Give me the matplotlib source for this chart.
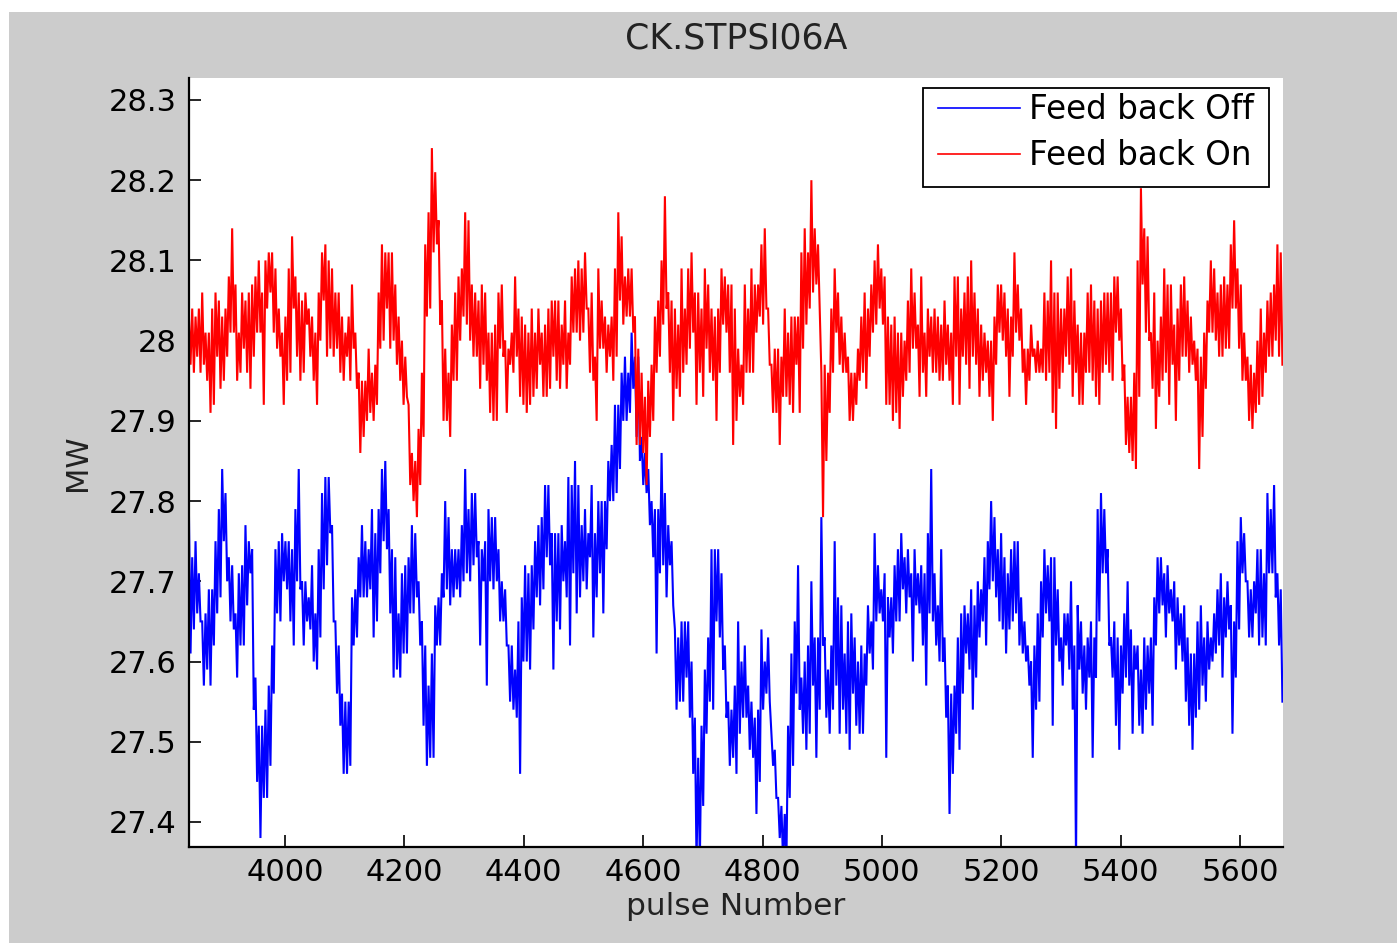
import numpy as np
import matplotlib
matplotlib.use("Agg")
import matplotlib.pyplot as plt
from matplotlib.patches import Rectangle
from matplotlib.lines import Line2D
from matplotlib.ticker import FixedLocator, FuncFormatter

# ---------------- data ----------------
title = "CK.STPSI06A"
x_label = "pulse Number"
y_label = "MW"
series_names = ["Feed back Off", "Feed back On"]
pulse_first, pulse_last = 3839, 5671
x_ticks = [4000, 4200, 4400, 4600, 4800, 5000, 5200, 5400, 5600]
y_ticks = [27.4, 27.5, 27.6, 27.7, 27.8, 27.9, 28.0, 28.1, 28.2, 28.3]

# local upper / lower envelope of each series
red_hi = [
    28.03, 28.04, 28.03, 28.04, 28.06, 28.01, 28.01, 28.04, 28.06, 28.05,
    28.03, 28.04, 28.08, 28.14, 28.07, 28.01, 28.06, 28.05, 28.06, 28.07,
    28.08, 28.10, 28.06, 28.10, 28.11, 28.11, 28.09, 28.04, 28.01, 28.03,
    28.09, 28.13, 28.08, 28.06, 28.05, 28.06, 28.04, 28.03, 28.01, 28.06,
    28.11, 28.12, 28.10, 28.09, 28.06, 28.06, 28.03, 28.01, 28.03, 28.07,
    28.01, 27.96, 27.95, 27.95, 27.99, 27.96,
    27.97, 28.06, 28.12, 28.11, 28.11, 28.11, 28.07, 28.03, 28.00, 27.98,
    27.92, 27.86, 27.85, 27.89, 27.96, 28.12, 28.16, 28.24, 28.21, 28.15,
    28.05, 27.99, 27.96, 28.02, 28.06, 28.08, 28.09, 28.16, 28.15, 28.07,
    28.06, 28.05, 28.07, 28.06, 28.01, 28.01, 28.02, 28.06, 28.07, 28.00,
    27.99, 28.01, 28.08, 28.04, 28.03, 28.02, 28.01, 28.04, 28.01, 28.04,
    28.01, 28.02, 28.04, 28.05, 28.05, 28.05,
    28.02, 28.05, 28.01, 28.08, 28.09, 28.10, 28.09, 28.11, 28.04, 28.06,
    27.98, 28.09, 28.05, 28.03, 28.02, 28.03, 28.09, 28.16, 28.13, 28.08,
    28.09, 28.09, 28.03, 27.99, 27.96, 27.93, 27.95, 27.97, 28.03, 28.05,
    28.10, 28.18, 28.06, 28.05, 28.04, 28.02, 28.09, 28.04, 28.09, 28.11,
    28.06, 28.06, 28.04, 28.09, 28.07, 28.04, 28.03, 28.04, 28.09, 28.08,
    28.07, 28.07, 28.04, 27.99, 27.97,
    28.07, 28.04, 28.09, 28.07, 28.07, 28.12, 28.14, 28.04, 27.97, 27.99,
    27.99, 27.98, 28.04, 28.01, 28.03, 28.03, 28.03, 28.11, 28.14, 28.11,
    28.20, 28.14, 28.12, 27.96, 27.97, 27.96, 28.04, 28.09, 28.06, 28.03,
    28.01, 27.98, 27.96, 27.96, 27.99, 28.03, 28.06, 28.04, 28.07, 28.10,
    28.12, 28.09, 28.08, 28.03, 28.02, 28.03, 28.01, 28.01, 28.00, 28.05,
    28.09, 28.06, 28.02, 28.08, 28.01,
    28.04, 28.03, 28.04, 28.03, 28.02, 28.05, 28.02, 28.01, 28.08, 28.08,
    28.04, 28.06, 28.08, 28.10, 28.06, 28.04, 28.02, 28.01, 28.00, 28.00,
    28.03, 28.07, 28.07, 28.06, 28.04, 28.03, 28.11, 28.07, 28.04, 27.99,
    27.99, 28.02, 27.99, 28.00, 27.99, 28.06, 28.05, 28.10, 28.06, 28.06,
    28.04, 28.04, 28.08, 28.09, 28.05, 28.02, 28.01, 28.01, 28.06, 28.07,
    28.05, 28.04, 28.05, 28.06, 28.06,
    28.06, 28.08, 28.08, 28.04, 27.97, 27.93, 27.93, 27.96, 28.10, 28.19,
    28.14, 28.13, 28.01, 28.06, 28.00, 28.03, 28.09, 28.07, 28.07, 28.02,
    28.04, 28.07, 28.08, 28.05, 28.03, 28.00, 27.99, 27.98, 28.01, 28.05,
    28.10, 28.09, 28.06, 28.07, 28.08, 28.07, 28.12, 28.15, 28.09, 28.07,
    28.01, 27.98, 27.97, 27.96, 28.00, 28.04, 28.01, 28.05, 28.06, 28.07,
    28.12, 28.11,
]
red_lo = [
    27.97, 27.96, 27.98, 27.96, 27.97, 27.95, 27.91, 27.92, 27.98, 27.94,
    27.95, 27.98, 28.01, 28.01, 27.95, 27.96, 27.99, 27.96, 27.94, 27.98,
    28.01, 28.01, 27.92, 28.04, 28.06, 28.01, 27.99, 27.98, 27.92, 27.95,
    27.96, 28.04, 27.98, 27.95, 27.96, 28.02, 27.98, 27.95, 27.92, 28.00,
    28.05, 27.98, 27.99, 27.98, 27.99, 27.96, 27.95, 27.98, 27.95, 27.99,
    27.94, 27.86, 27.88, 27.90, 27.91, 27.90,
    27.92, 27.99, 28.00, 28.04, 27.99, 28.00, 27.97, 27.95, 27.92, 27.93,
    27.82, 27.80, 27.78, 27.82, 27.88, 28.03, 28.04, 28.11, 28.12, 28.02,
    27.90, 27.90, 27.88, 27.95, 27.95, 28.00, 28.03, 28.02, 28.00, 27.98,
    27.98, 27.94, 27.97, 27.95, 27.91, 27.90, 27.90, 27.99, 27.98, 27.91,
    27.97, 27.96, 27.98, 27.93, 27.92, 27.91, 27.92, 27.93, 27.94, 27.97,
    27.93, 27.93, 27.94, 27.98, 27.95, 27.94,
    27.97, 27.94, 27.97, 28.01, 28.01, 28.00, 28.01, 28.04, 27.96, 27.95,
    27.90, 27.99, 27.99, 27.96, 27.98, 27.95, 27.98, 28.05, 28.02, 28.03,
    28.03, 28.01, 27.87, 27.87, 27.86, 27.82, 27.88, 27.90, 27.96, 27.98,
    28.02, 28.04, 27.96, 27.90, 27.94, 27.93, 27.96, 27.97, 27.99, 28.01,
    27.92, 27.96, 27.93, 27.99, 27.96, 27.95, 27.90, 27.96, 28.02, 28.01,
    27.96, 27.87, 27.90, 27.93, 27.92,
    27.96, 27.96, 27.96, 28.01, 28.03, 28.02, 28.04, 27.97, 27.91, 27.91,
    27.87, 27.93, 27.93, 27.92, 27.91, 27.97, 27.91, 27.99, 28.02, 28.04,
    28.06, 28.07, 28.04, 27.78, 27.85, 27.91, 27.96, 28.01, 27.97, 27.96,
    27.96, 27.90, 27.90, 27.92, 27.95, 27.96, 27.94, 27.98, 28.01, 28.02,
    28.04, 28.02, 27.92, 27.92, 27.90, 27.91, 27.89, 27.93, 27.95, 27.96,
    27.99, 27.99, 27.93, 27.96, 27.93,
    27.98, 27.96, 27.96, 27.95, 27.95, 27.97, 27.95, 27.92, 27.98, 27.92,
    27.98, 27.97, 27.94, 27.98, 27.97, 27.93, 27.95, 27.96, 27.93, 27.90,
    27.97, 28.01, 28.00, 27.98, 27.93, 27.98, 28.01, 28.00, 27.96, 27.92,
    27.95, 27.98, 27.96, 27.96, 27.96, 27.95, 27.96, 27.91, 27.89, 27.94,
    27.96, 27.98, 27.97, 27.93, 27.96, 27.92, 27.92, 27.96, 27.96, 27.95,
    27.93, 27.92, 27.96, 27.97, 27.96,
    27.95, 28.01, 28.00, 27.95, 27.87, 27.86, 27.85, 27.84, 27.93, 28.07,
    28.01, 28.00, 27.94, 27.89, 27.93, 27.95, 27.96, 27.92, 27.97, 27.90,
    27.95, 27.98, 27.98, 27.96, 27.97, 27.95, 27.84, 27.88, 27.94, 28.01,
    28.01, 28.00, 27.98, 27.98, 27.99, 27.99, 28.04, 28.04, 27.99, 27.95,
    27.95, 27.90, 27.89, 27.91, 27.92, 27.93, 27.96, 27.98, 27.98, 28.00,
    27.98, 27.97,
]
blue_hi = [
    27.79, 27.73, 27.75, 27.71, 27.65, 27.66, 27.69, 27.69, 27.75, 27.79,
    27.84, 27.81, 27.73, 27.72, 27.66, 27.71, 27.72, 27.77, 27.75, 27.74,
    27.58, 27.52, 27.52, 27.54, 27.57, 27.62, 27.74, 27.75, 27.76, 27.75,
    27.75, 27.74, 27.79, 27.84, 27.70, 27.70, 27.68, 27.72, 27.66, 27.74,
    27.81, 27.83, 27.83, 27.77, 27.65, 27.62, 27.56, 27.55, 27.55, 27.68,
    27.69, 27.73, 27.77, 27.75, 27.74, 27.79,
    27.76, 27.79, 27.84, 27.85, 27.79, 27.74, 27.73, 27.66, 27.71, 27.72,
    27.73, 27.77, 27.76, 27.70, 27.65, 27.62, 27.57, 27.61, 27.67, 27.68,
    27.71, 27.80, 27.78, 27.74, 27.74, 27.74, 27.77, 27.84, 27.79, 27.81,
    27.81, 27.75, 27.74, 27.75, 27.79, 27.78, 27.78, 27.74, 27.70, 27.69,
    27.62, 27.62, 27.59, 27.65, 27.68, 27.72, 27.71, 27.72, 27.75, 27.77,
    27.78, 27.82, 27.82, 27.76, 27.76, 27.76,
    27.77, 27.75, 27.83, 27.82, 27.85, 27.82, 27.77, 27.79, 27.76, 27.82,
    27.76, 27.80, 27.80, 27.80, 27.85, 27.87, 27.92, 27.92, 27.96, 27.98,
    27.96, 28.01, 27.98, 27.98, 27.88, 27.86, 27.84, 27.80, 27.79, 27.79,
    27.86, 27.81, 27.77, 27.75, 27.64, 27.63, 27.65, 27.65, 27.65, 27.60,
    27.53, 27.48, 27.52, 27.59, 27.63, 27.74, 27.74, 27.74, 27.71, 27.62,
    27.55, 27.54, 27.57, 27.65, 27.60,
    27.62, 27.57, 27.55, 27.53, 27.54, 27.64, 27.60, 27.63, 27.51, 27.49,
    27.43, 27.42, 27.41, 27.52, 27.61, 27.65, 27.72, 27.58, 27.60, 27.62,
    27.70, 27.63, 27.63, 27.78, 27.63, 27.59, 27.62, 27.75, 27.68, 27.67,
    27.61, 27.65, 27.66, 27.63, 27.60, 27.62, 27.61, 27.67, 27.65, 27.76,
    27.72, 27.69, 27.71, 27.68, 27.68, 27.72, 27.74, 27.76, 27.73, 27.74,
    27.71, 27.74, 27.71, 27.72, 27.71,
    27.76, 27.84, 27.71, 27.67, 27.74, 27.63, 27.57, 27.56, 27.57, 27.63,
    27.66, 27.67, 27.66, 27.69, 27.67, 27.70, 27.69, 27.73, 27.75, 27.80,
    27.78, 27.74, 27.76, 27.73, 27.71, 27.74, 27.75, 27.75, 27.68, 27.65,
    27.62, 27.60, 27.62, 27.66, 27.70, 27.74, 27.72, 27.73, 27.73, 27.69,
    27.63, 27.66, 27.66, 27.70, 27.62, 27.67, 27.65, 27.62, 27.63, 27.65,
    27.63, 27.79, 27.81, 27.79, 27.74,
    27.63, 27.65, 27.63, 27.62, 27.66, 27.70, 27.64, 27.62, 27.62, 27.59,
    27.63, 27.62, 27.63, 27.68, 27.73, 27.73, 27.71, 27.72, 27.69, 27.70,
    27.68, 27.66, 27.67, 27.63, 27.61, 27.61, 27.65, 27.67, 27.63, 27.65,
    27.63, 27.66, 27.69, 27.71, 27.68, 27.70, 27.67, 27.65, 27.75, 27.78,
    27.76, 27.70, 27.69, 27.70, 27.74, 27.74, 27.71, 27.81, 27.79, 27.82,
    27.71, 27.69,
]
blue_lo = [
    27.61, 27.64, 27.66, 27.65, 27.57, 27.59, 27.57, 27.62, 27.66, 27.68,
    27.75, 27.70, 27.65, 27.64, 27.58, 27.62, 27.62, 27.67, 27.71, 27.54,
    27.45, 27.38, 27.43, 27.43, 27.47, 27.56, 27.66, 27.65, 27.70, 27.69,
    27.65, 27.62, 27.70, 27.69, 27.62, 27.65, 27.64, 27.60, 27.59, 27.63,
    27.69, 27.72, 27.76, 27.65, 27.56, 27.52, 27.46, 27.46, 27.47, 27.62,
    27.63, 27.68, 27.68, 27.68, 27.69, 27.63,
    27.65, 27.71, 27.75, 27.74, 27.66, 27.58, 27.59, 27.58, 27.61, 27.61,
    27.66, 27.66, 27.68, 27.62, 27.52, 27.47, 27.48, 27.48, 27.62, 27.62,
    27.68, 27.69, 27.67, 27.68, 27.69, 27.68, 27.70, 27.71, 27.70, 27.72,
    27.73, 27.62, 27.70, 27.57, 27.70, 27.69, 27.70, 27.65, 27.65, 27.62,
    27.55, 27.54, 27.53, 27.46, 27.60, 27.60, 27.59, 27.64, 27.68, 27.67,
    27.69, 27.73, 27.72, 27.59, 27.65, 27.64,
    27.70, 27.68, 27.62, 27.71, 27.66, 27.68, 27.70, 27.69, 27.73, 27.63,
    27.68, 27.71, 27.66, 27.74, 27.80, 27.80, 27.81, 27.84, 27.90, 27.90,
    27.91, 27.94, 27.88, 27.85, 27.82, 27.81, 27.77, 27.73, 27.61, 27.71,
    27.72, 27.68, 27.72, 27.67, 27.54, 27.55, 27.55, 27.58, 27.53, 27.46,
    27.35, 27.35, 27.42, 27.51, 27.55, 27.54, 27.65, 27.63, 27.59, 27.53,
    27.47, 27.48, 27.46, 27.51, 27.53,
    27.53, 27.49, 27.48, 27.41, 27.45, 27.54, 27.56, 27.55, 27.47, 27.43,
    27.38, 27.35, 27.35, 27.43, 27.47, 27.56, 27.54, 27.51, 27.49, 27.51,
    27.57, 27.48, 27.54, 27.62, 27.53, 27.51, 27.54, 27.57, 27.51, 27.54,
    27.51, 27.49, 27.56, 27.52, 27.51, 27.51, 27.57, 27.61, 27.59, 27.65,
    27.66, 27.65, 27.48, 27.63, 27.61, 27.65, 27.65, 27.69, 27.66, 27.68,
    27.60, 27.67, 27.66, 27.62, 27.57,
    27.66, 27.65, 27.62, 27.60, 27.60, 27.53, 27.41, 27.46, 27.51, 27.49,
    27.56, 27.61, 27.59, 27.54, 27.58, 27.63, 27.65, 27.62, 27.69, 27.70,
    27.68, 27.65, 27.64, 27.61, 27.64, 27.65, 27.66, 27.62, 27.61, 27.60,
    27.57, 27.48, 27.54, 27.55, 27.63, 27.66, 27.65, 27.52, 27.62, 27.60,
    27.57, 27.62, 27.59, 27.54, 27.35, 27.59, 27.56, 27.54, 27.58, 27.48,
    27.58, 27.65, 27.71, 27.71, 27.62,
    27.58, 27.52, 27.49, 27.56, 27.58, 27.57, 27.51, 27.59, 27.52, 27.51,
    27.54, 27.56, 27.52, 27.62, 27.66, 27.67, 27.63, 27.66, 27.65, 27.59,
    27.62, 27.60, 27.55, 27.52, 27.49, 27.53, 27.54, 27.57, 27.55, 27.59,
    27.60, 27.61, 27.62, 27.58, 27.63, 27.64, 27.51, 27.58, 27.64, 27.71,
    27.70, 27.63, 27.63, 27.66, 27.62, 27.63, 27.62, 27.71, 27.71, 27.68,
    27.62, 27.55,
]


def envelope_trace(hi, lo):
    vals = np.column_stack([hi, lo]).ravel()
    pulses = np.linspace(pulse_first, pulse_last, vals.size)
    return pulses, vals


# ---------------- figure ----------------
W, H = 1397, 943
fig = plt.figure(figsize=(W / 100, H / 100), dpi=100, facecolor="white")
fig.patches.append(Rectangle((9 / W, 0), 1 - 9 / W, 1 - 12 / H,
                             transform=fig.transFigure, facecolor="#cccccc",
                             edgecolor="none", zorder=-5))

AX_L, AX_R, AX_T, AX_B = 189, 1283, 78, 847
ax = fig.add_axes([AX_L / W, 1 - AX_B / H, (AX_R - AX_L) / W, (AX_B - AX_T) / H])
ax.set_facecolor("white")


def ax_frac(px, py):
    return ((px - AX_L) / (AX_R - AX_L), 1 - (py - AX_T) / (AX_B - AX_T))


bx, by = envelope_trace(blue_hi, blue_lo)
rx, ry = envelope_trace(red_hi, red_lo)
ax.plot(bx, by, color=(0, 0, 1), lw=1.5, solid_joinstyle="miter", zorder=2)
ax.plot(rx, ry, color=(1, 0, 0), lw=1.5, solid_joinstyle="miter", zorder=2)

ax.set_xlim(3839.2, 5672.0)
ax.set_ylim(27.3688, 28.3274)

for s in ("top", "right"):
    ax.spines[s].set_visible(False)
for s in ("left", "bottom"):
    ax.spines[s].set_linewidth(1.6)
    ax.spines[s].set_color("black")

ax.xaxis.set_major_locator(FixedLocator(x_ticks))
ax.yaxis.set_major_locator(FixedLocator(y_ticks))
ax.yaxis.set_major_formatter(FuncFormatter(lambda v, p: f"{round(v, 1):g}"))
ax.xaxis.set_major_formatter(FuncFormatter(lambda v, p: f"{int(round(v))}"))
ax.tick_params(axis="both", direction="in", length=8.5, width=1.2,
               labelsize=22, colors="black", top=False, right=False)
ax.tick_params(axis="y", pad=9)
ax.tick_params(axis="x", pad=8)

ax.set_title(title, fontsize=25, pad=21, color="#222222")
ax.set_xlabel(x_label, fontsize=22.5, color="#222222")
ax.set_ylabel(y_label, fontsize=22, color="#222222")
ax.xaxis.set_label_coords(0.5, -0.058)
ax.yaxis.set_label_coords(-0.089, 0.5)

# legend: frame drawn as a box, entries placed inside it
fx0, fy0 = ax_frac(923, 187)
fx1, fy1 = ax_frac(1269, 88)
ax.add_patch(Rectangle((fx0, fy0), fx1 - fx0, fy1 - fy0, transform=ax.transAxes,
                       facecolor="white", edgecolor="black", lw=1.3, zorder=4,
                       clip_on=False))
handles = [Line2D([], [], color=(0, 0, 1), lw=1.2),
           Line2D([], [], color=(1, 0, 0), lw=1.2)]
leg = ax.legend(handles, series_names, loc="upper left",
                bbox_to_anchor=ax_frac(938, 93), borderaxespad=0,
                fontsize=23.5, frameon=False, handlelength=2.5,
                handletextpad=0.3, labelspacing=0.40, borderpad=0)
leg.set_zorder(5)

fig.savefig("out.png", dpi=100, facecolor=fig.get_facecolor())
